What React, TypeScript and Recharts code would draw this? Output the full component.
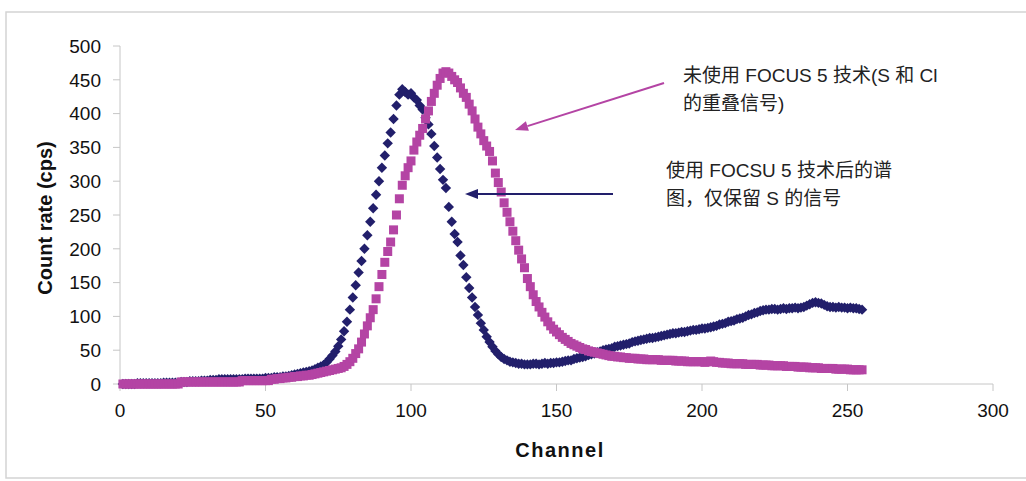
import { ScatterChart, Scatter, XAxis, YAxis } from 'recharts';

const NAVY = '#221f6b';
const PINK = '#b444a4';
const AXIS = '#c6c6c6';
const FONT = "'Liberation Sans', Arial, sans-serif";
const CJK_FONT = "'Liberation Sans', 'Noto Sans CJK SC', sans-serif";

// channel of the first value in each series (one value per channel)
const channelStart = 1;

const xTicks = [0, 50, 100, 150, 200, 250, 300];
const yTicks = [0, 50, 100, 150, 200, 250, 300, 350, 400, 450, 500];

// S only (after FOCUS 5)
const sOnlyCounts = [
  0, 0, 0, 0, 0, 1, 1, 1, 1, 1,
  1, 1, 1, 1, 2, 2, 2, 2, 2, 2,
  3, 3, 3, 4, 4, 4, 4, 5, 5, 5,
  6, 6, 6, 7, 7, 7, 7, 7, 7, 7,
  7, 7, 8, 8, 8, 8, 8, 8, 8, 9,
  9, 9, 10, 10, 10, 11, 11, 12, 13, 14,
  15, 16, 17, 18, 19, 20, 22, 24, 26, 28,
  32, 37, 42, 48, 56, 66, 78, 92, 110, 128,
  146, 165, 182, 200, 220, 240, 260, 280, 300, 320,
  338, 356, 372, 392, 412, 428, 436, 432, 428, 430,
  424, 420, 412, 406, 394, 384, 370, 352, 335, 318,
  302, 290, 262, 240, 222, 210, 190, 176, 158, 142,
  128, 114, 102, 90, 80, 70, 62, 55, 49, 44,
  40, 37, 35, 33, 32, 31, 30, 30, 29, 29,
  29, 30, 30, 29, 30, 31, 30, 31, 31, 32,
  32, 33, 34, 35, 35, 37, 38, 39, 40, 41,
  43, 44, 45, 47, 48, 50, 51, 52, 53, 55,
  56, 57, 58, 59, 60, 62, 63, 64, 65, 66,
  67, 68, 68, 69, 70, 71, 72, 73, 74, 75,
  75, 76, 77, 77, 78, 79, 80, 80, 81, 82,
  82, 83, 84, 85, 86, 88, 89, 90, 92, 93,
  94, 96, 97, 98, 100, 102, 103, 105, 106, 108,
  109, 110, 110, 111, 111, 110, 111, 112, 111, 112,
  112, 113, 112, 113, 114, 116, 118, 120, 121, 120,
  119, 117, 115, 114, 114, 113, 114, 113, 113, 112,
  113, 112, 112, 111, 110,
];

// S + Cl overlap (without FOCUS 5)
const overlapCounts = [
  0, 0, 0, 0, 0, 0, 0, 0, 0, 0,
  0, 0, 0, 0, 0, 0, 0, 0, 0, 0,
  3, 3, 3, 3, 3, 3, 3, 3, 3, 3,
  3, 3, 3, 3, 3, 3, 3, 3, 3, 3,
  3, 5, 5, 5, 5, 5, 5, 5, 5, 5,
  5, 7, 7, 8, 8, 9, 9, 10, 10, 11,
  11, 12, 12, 13, 13, 14, 15, 16, 17, 18,
  19, 20, 21, 22, 23, 24, 26, 29, 33, 38,
  45, 52, 62, 74, 86, 98, 110, 126, 144, 162,
  180, 196, 210, 228, 250, 274, 294, 308, 320, 330,
  346, 358, 368, 378, 392, 404, 418, 430, 442, 452,
  460, 462, 460, 455, 450, 446, 438, 430, 424, 414,
  404, 392, 380, 370, 360, 352, 344, 330, 312, 298,
  284, 268, 254, 240, 226, 212, 198, 185, 172, 156,
  144, 132, 122, 114, 106, 99, 92, 86, 81, 77,
  73, 69, 66, 63, 60, 58, 56, 54, 52, 51,
  49, 48, 47, 46, 45, 44, 43, 42, 41, 41,
  40, 40, 39, 39, 38, 38, 38, 37, 37, 37,
  36, 36, 36, 36, 36, 35, 35, 35, 35, 35,
  34, 34, 34, 34, 33, 33, 33, 33, 33, 33,
  32, 33, 34, 33, 32, 32, 31, 31, 31, 30,
  30, 30, 30, 30, 29, 29, 29, 29, 29, 28,
  28, 28, 28, 27, 27, 27, 27, 27, 26, 26,
  26, 26, 25, 25, 25, 25, 24, 24, 24, 24,
  23, 23, 23, 23, 23, 22, 22, 22, 22, 22,
  21, 21, 21, 21, 21,
];

const toPoints = (counts: number[]) =>
  counts.map((count, i) => ({ channel: channelStart + i, count }));

const sOnlyData = toPoints(sOnlyCounts);
const overlapData = toPoints(overlapCounts);

const Diamond = (props: any) => {
  const { cx, cy } = props;
  const r = 5.2;
  return (
    <polygon
      points={`${cx},${cy - r} ${cx + r},${cy} ${cx},${cy + r} ${cx - r},${cy}`}
      fill={NAVY}
    />
  );
};

const Square = (props: any) => {
  const { cx, cy } = props;
  return <rect x={cx - 4.5} y={cy - 4.5} width={9} height={9} fill={PINK} />;
};

function Arrow({ x1, y1, x2, y2, color }: { x1: number; y1: number; x2: number; y2: number; color: string }) {
  const dx = x2 - x1;
  const dy = y2 - y1;
  const len = Math.sqrt(dx * dx + dy * dy);
  const ux = dx / len;
  const uy = dy / len;
  const head = 13;
  const half = 5;
  const bx = x2 - ux * head;
  const by = y2 - uy * head;
  const p1 = `${bx - uy * half},${by + ux * half}`;
  const p2 = `${bx + uy * half},${by - ux * half}`;
  return (
    <g>
      <line x1={x1} y1={y1} x2={bx} y2={by} stroke={color} strokeWidth={2} />
      <polygon points={`${x2},${y2} ${p1} ${p2}`} fill={color} />
    </g>
  );
}

export default function App() {
  return (
    <div style={{ position: 'absolute', left: 0, top: 0, width: 1026, height: 481, background: '#fff' }}>
      <ScatterChart width={1026} height={481} margin={{ top: 46, right: 33, bottom: 0, left: 0 }}>
        <XAxis
          type="number"
          dataKey="channel"
          domain={[0, 300]}
          ticks={xTicks}
          height={97}
          stroke={AXIS}
          tickSize={7}
          tickMargin={13}
          tick={{ fill: '#111', fontSize: 19, fontFamily: FONT }}
        />
        <YAxis
          type="number"
          dataKey="count"
          domain={[0, 500]}
          ticks={yTicks}
          width={120}
          stroke={AXIS}
          tickSize={7}
          tickMargin={12}
          tick={{ fill: '#111', fontSize: 19, fontFamily: FONT }}
        />
        <Scatter data={sOnlyData} shape={Diamond} isAnimationActive={false} />
        <Scatter data={overlapData} shape={Square} isAnimationActive={false} />
      </ScatterChart>
      <svg
        width={1026}
        height={481}
        style={{ position: 'absolute', left: 0, top: 0, pointerEvents: 'none' }}
      >
        <polyline points="1026,12 6,12 6,478 1026,478" fill="none" stroke="#d4d4d4" strokeWidth={1.5} />
        <text
          transform="translate(52,218) rotate(-90)"
          textAnchor="middle"
          fontFamily={FONT}
          fontWeight="bold"
          fontSize={20}
          fill="#111"
        >
          Count rate (cps)
        </text>
        <text
          x={560}
          y={457}
          textAnchor="middle"
          fontFamily={FONT}
          fontWeight="bold"
          fontSize={20}
          letterSpacing={1.5}
          fill="#111"
        >
          Channel
        </text>
        <g fontFamily={CJK_FONT} fontSize={19} fill="#222">
          <text x={683} y={82}>未使用 FOCUS 5 技术(S 和 Cl</text>
          <text x={683} y={110}>的重叠信号)</text>
          <text x={666} y={177}>使用 FOCSU 5 技术后的谱</text>
          <text x={666} y={205}>图，仅保留 S 的信号</text>
        </g>
        <Arrow x1={664} y1={83} x2={515} y2={130} color={PINK} />
        <Arrow x1={613} y1={194} x2={465} y2={194} color={NAVY} />
      </svg>
    </div>
  );
}
